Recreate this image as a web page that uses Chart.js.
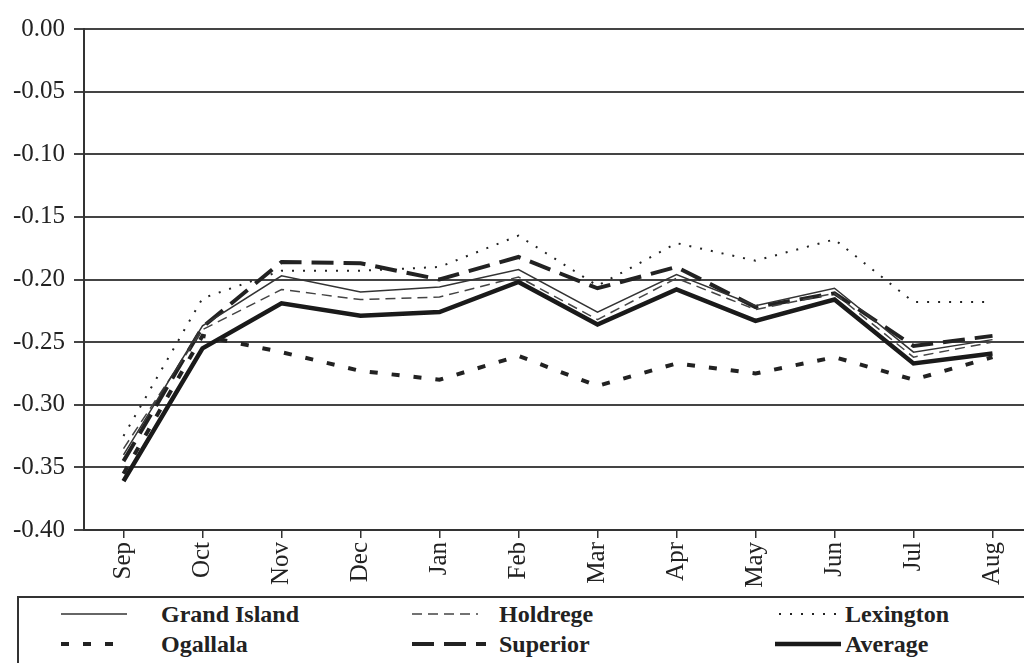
<!DOCTYPE html>
<html>
<head>
<meta charset="utf-8">
<script src="https://cdn.jsdelivr.net/npm/chart.js@4/dist/chart.umd.min.js"></script>
<style>
  html, body { margin: 0; padding: 0; background: #fff; overflow: hidden; width: 1024px; height: 663px; }
  #wrap { position: absolute; left: 0; top: 0; width: 1040px; height: 590px; }
  #legend {
    position: absolute; left: 17px; top: 596px; width: 1030px; height: 80px;
    border: 2px solid #333; box-sizing: border-box;
    font-family: "Liberation Serif", serif; font-weight: bold; font-size: 24px; color: #222;
  }
  .item { position: absolute; height: 26px; line-height: 26px; }
  .item svg { position: absolute; top: 0; }
  .item span { position: absolute; top: 0; white-space: nowrap; }
</style>
</head>
<body>
<div id="wrap"><canvas id="chart"></canvas></div>
<div id="legend"></div>
<script>
// Months and series
const months = ["Sep", "Oct", "Nov", "Dec", "Jan", "Feb", "Mar", "Apr", "May", "Jun", "Jul", "Aug"];
const yTicks = [0, -0.05, -0.10, -0.15, -0.20, -0.25, -0.30, -0.35, -0.40];

const grandIsland = [-0.340, -0.237, -0.197, -0.210, -0.206, -0.192, -0.226, -0.196, -0.221, -0.207, -0.258, -0.248];
const holdrege    = [-0.335, -0.240, -0.208, -0.216, -0.214, -0.198, -0.232, -0.199, -0.224, -0.211, -0.262, -0.250];
const lexington   = [-0.325, -0.215, -0.193, -0.193, -0.190, -0.165, -0.205, -0.171, -0.185, -0.168, -0.218, -0.218];
const ogallala    = [-0.355, -0.245, -0.258, -0.273, -0.280, -0.261, -0.285, -0.267, -0.275, -0.262, -0.280, -0.262];
const superior    = [-0.345, -0.238, -0.186, -0.187, -0.200, -0.182, -0.207, -0.190, -0.222, -0.211, -0.253, -0.245];
const average     = [-0.361, -0.255, -0.219, -0.229, -0.226, -0.202, -0.236, -0.208, -0.233, -0.216, -0.267, -0.259];

const seriesStyle = [
  { label: "Grand Island", data: grandIsland, width: 1.5, dash: [],       color: "#333" },
  { label: "Holdrege",     data: holdrege,    width: 1.5, dash: [10, 6],  color: "#444" },
  { label: "Lexington",    data: lexington,   width: 2,   dash: [2, 9],   color: "#222" },
  { label: "Ogallala",     data: ogallala,    width: 4,   dash: [8, 14],  color: "#222" },
  { label: "Superior",     data: superior,    width: 4,   dash: [22, 10], color: "#222" },
  { label: "Average",      data: average,     width: 4.5, dash: [],       color: "#1a1a1a" }
];

const font = { family: "'Liberation Serif', serif", size: 25 };

new Chart(document.getElementById("chart"), {
  type: "line",
  data: {
    labels: months,
    datasets: seriesStyle.map(s => ({
      label: s.label,
      data: s.data,
      borderColor: s.color,
      borderWidth: s.width,
      borderDash: s.dash,
      pointRadius: 0,
      tension: 0,
      fill: false
    }))
  },
  options: {
    responsive: true,
    maintainAspectRatio: false,
    animation: false,
    layout: { padding: { top: 29, right: 8, left: 0, bottom: 0 } },
    plugins: { legend: { display: false }, tooltip: { enabled: false } },
    scales: {
      x: {
        offset: true,
        grid: { drawOnChartArea: false, drawTicks: true, tickLength: 8, color: "#333", lineWidth: 1.5 },
        border: { color: "#333", width: 2 },
        ticks: { font: font, color: "#222", minRotation: 90, maxRotation: 90, padding: 4, autoSkip: false },
        afterFit: s => { s.height = 60; }
      },
      y: {
        min: -0.4, max: 0,
        afterBuildTicks: s => { s.ticks = yTicks.map(v => ({ value: v })); },
        grid: { color: "#444", lineWidth: 2, tickLength: 10 },
        border: { color: "#333", width: 2 },
        ticks: { font: font, color: "#222", padding: 9, callback: v => Number(v).toFixed(2) },
        afterFit: s => { s.width = 84; }
      }
    }
  }
});

// HTML legend laid out like the reference
const legendPos = [
  { x: 42,  y: 3,  w: 66 }, { x: 393, y: 3,  w: 66 }, { x: 760, y: 3,  w: 60 },
  { x: 42,  y: 33, w: 66 }, { x: 393, y: 33, w: 74 }, { x: 756, y: 33, w: 66 }
];
const textX = [142, 480, 826, 142, 480, 826];
const legend = document.getElementById("legend");
seriesStyle.forEach((s, i) => {
  const p = legendPos[i];
  const div = document.createElement("div");
  div.className = "item";
  div.style.left = "0px";
  div.style.top = p.y + "px";
  div.innerHTML =
    '<svg width="' + (p.x + p.w + 4) + '" height="26"><line x1="' + p.x + '" y1="13" x2="' + (p.x + p.w) +
    '" y2="13" stroke="' + s.color + '" stroke-width="' + s.width + '" stroke-dasharray="' +
    (s.dash.length ? s.dash.join(" ") : "none") + '"/></svg>' +
    '<span style="left:' + textX[i] + 'px">' + s.label + '</span>';
  legend.appendChild(div);
});
</script>
</body>
</html>
